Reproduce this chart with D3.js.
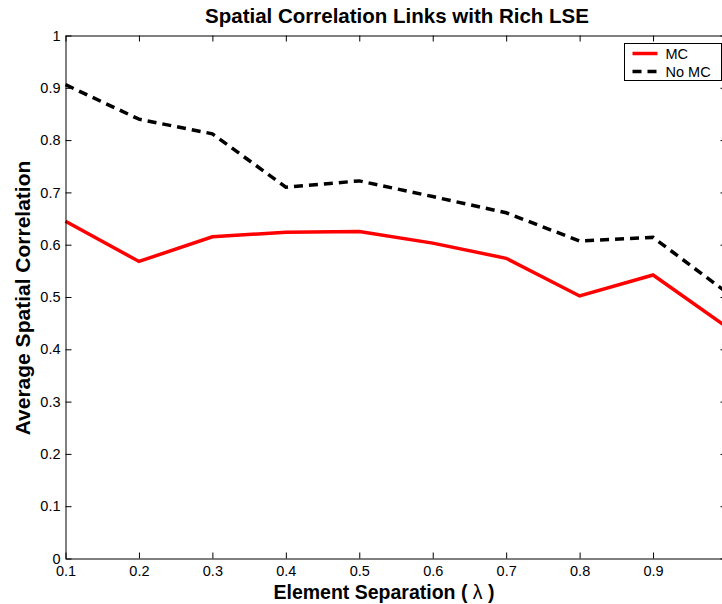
<!DOCTYPE html>
<html>
<head>
<meta charset="utf-8">
<script src="https://cdn.jsdelivr.net/npm/d3@7"></script>
<style>
  html, body { margin: 0; padding: 0; background: #fff; overflow: hidden; }
  svg { display: block; font-family: "Liberation Sans", Arial, Helvetica, sans-serif; }
</style>
</head>
<body>
<svg id="chart" width="722" height="604"></svg>
<script>
// Element separation in wavelengths
const separation = [0.1, 0.2, 0.3, 0.4, 0.5, 0.6, 0.7, 0.8, 0.9, 1.0];
// Average spatial correlation, with and without mutual coupling
const mcValues   = [0.645, 0.568, 0.615, 0.624, 0.625, 0.603, 0.574, 0.502, 0.542, 0.443];
const noMcValues = [0.906, 0.840, 0.812, 0.710, 0.722, 0.692, 0.661, 0.607, 0.614, 0.509];
const seriesNames = ["MC", "No MC"];
const xTicks = [0.1, 0.2, 0.3, 0.4, 0.5, 0.6, 0.7, 0.8, 0.9, 1.0];
const xTickLabels = ["0.1", "0.2", "0.3", "0.4", "0.5", "0.6", "0.7", "0.8", "0.9", ""];
const yTicks = [0, 0.1, 0.2, 0.3, 0.4, 0.5, 0.6, 0.7, 0.8, 0.9, 1.0];
const yTickLabels = ["0", "0.1", "0.2", "0.3", "0.4", "0.5", "0.6", "0.7", "0.8", "0.9", "1"];

const svg = d3.select("#chart");
const plotL = 65.5, plotR = 726.5, plotT = 35.5, plotB = 558.5;

const x = d3.scaleLinear().domain([0.1, 1.0]).range([plotL, plotR]);
const y = d3.scaleLinear().domain([0, 1]).range([plotB, plotT]);

// Data lines
const line = d3.line().x((d, i) => x(separation[i])).y(d => y(d));

svg.append("path")
  .datum(noMcValues)
  .attr("fill", "none")
  .attr("stroke", "#000")
  .attr("stroke-width", 3.5)
  .attr("stroke-dasharray", "9,6")
  .attr("d", line);

svg.append("path")
  .datum(mcValues)
  .attr("fill", "none")
  .attr("stroke", "#ff0000")
  .attr("stroke-width", 3.5)
  .attr("stroke-linejoin", "miter")
  .attr("d", line);

// Axes box with inward ticks on all sides
const axisG = svg.append("g");
axisG.append("g")
  .attr("transform", `translate(0,${plotB})`)
  .call(d3.axisBottom(x).tickValues(xTicks).tickSizeInner(-6).tickSizeOuter(0).tickPadding(7.5)
    .tickFormat((d, i) => xTickLabels[i]));
axisG.append("g")
  .attr("transform", `translate(0,${plotT})`)
  .call(d3.axisTop(x).tickValues(xTicks).tickSizeInner(-6).tickSizeOuter(0).tickFormat(""));
axisG.append("g")
  .attr("transform", `translate(${plotL},0)`)
  .call(d3.axisLeft(y).tickValues(yTicks).tickSizeInner(-6).tickSizeOuter(0).tickPadding(5)
    .tickFormat((d, i) => yTickLabels[i]));
axisG.append("g")
  .attr("transform", `translate(${plotR},0)`)
  .call(d3.axisRight(y).tickValues(yTicks).tickSizeInner(-6).tickSizeOuter(0).tickFormat(""));

axisG.selectAll(".domain").attr("stroke", "#000").attr("stroke-width", 1);
axisG.selectAll(".tick line").attr("stroke", "#000").attr("stroke-width", 1);
axisG.selectAll(".tick text")
  .attr("fill", "#000")
  .style("font-size", "14.5px")
  .style("font-family", "'Liberation Sans', Arial, sans-serif");

// Title and axis labels
svg.append("text")
  .attr("x", 397).attr("y", 23)
  .attr("text-anchor", "middle")
  .style("font-size", "20.5px").style("font-weight", "bold")
  .text("Spatial Correlation Links with Rich LSE");

const xLabel = svg.append("text")
  .attr("x", 384).attr("y", 599)
  .attr("text-anchor", "middle")
  .style("font-size", "19.5px").style("font-weight", "bold");
xLabel.append("tspan").text("Element Separation (  ");
xLabel.append("tspan").style("font-weight", "normal").text("λ");
xLabel.append("tspan").text(" )");

svg.append("text")
  .attr("transform", "translate(30,298) rotate(-90)")
  .attr("text-anchor", "middle")
  .style("font-size", "21px").style("font-weight", "bold")
  .text("Average Spatial Correlation");

// Legend
const lg = svg.append("g").attr("transform", "translate(624.5,43.5)");
lg.append("rect")
  .attr("width", 97).attr("height", 37)
  .attr("fill", "#fff").attr("stroke", "#000").attr("stroke-width", 1);
const legendStyles = [
  { color: "#ff0000", dash: null },
  { color: "#000", dash: "9,6" }
];
seriesNames.forEach((name, i) => {
  const yy = 10 + i * 18;
  lg.append("line")
    .attr("x1", 8).attr("x2", 33).attr("y1", yy).attr("y2", yy)
    .attr("stroke", legendStyles[i].color).attr("stroke-width", 3.5)
    .attr("stroke-dasharray", legendStyles[i].dash);
  lg.append("text")
    .attr("x", 41).attr("y", yy + 5)
    .style("font-size", "14.5px")
    .text(name);
});
</script>
</body>
</html>
